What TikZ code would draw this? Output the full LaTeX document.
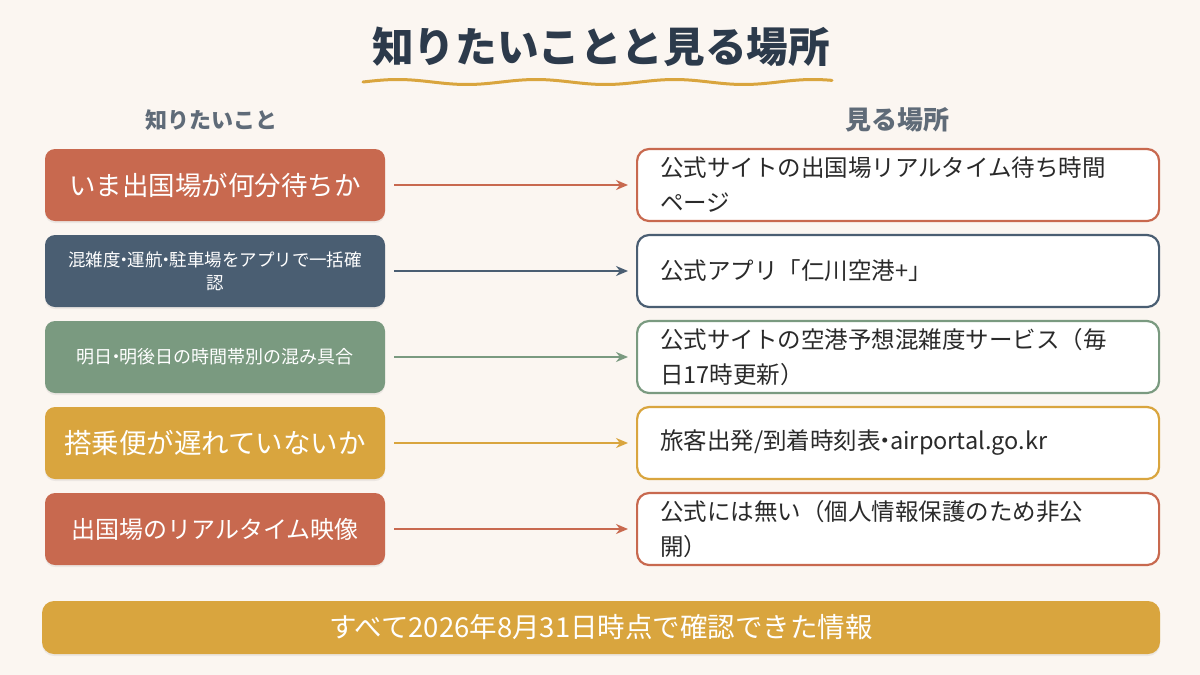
\documentclass[tikz,border=0pt]{standalone}
\usepackage{fontspec}
\setmainfont{Noto Sans CJK JP}
\usetikzlibrary{arrows.meta,shadows}
\definecolor{bgc}{HTML}{FBF6F1}
\definecolor{titlec}{HTML}{2C3A4B}
\definecolor{headc}{HTML}{5F6B78}
\definecolor{terra}{HTML}{C8694F}
\definecolor{slate}{HTML}{4A5E72}
\definecolor{sage}{HTML}{7A9A80}
\definecolor{gold}{HTML}{D9A53E}
\definecolor{txtc}{HTML}{2A2A2A}
\newcommand{\nd}{\kern-.3em・\kern-.3em}
\tikzset{
  leftbox/.style={rectangle, rounded corners=10pt, fill=#1, text=white, minimum width=340pt, minimum height=72pt, align=center, inner sep=4pt,
    drop shadow={opacity=0.12, shadow xshift=0pt, shadow yshift=-2pt}},
  rightbox/.style={rectangle, rounded corners=12pt, draw=#1, line width=2.2pt, fill=white, text=txtc, text width=476pt, inner xsep=23pt, inner ysep=4pt, minimum height=72pt, align=left, anchor=west,
    font=\fontsize{23.5}{35}\selectfont},
  conn/.style={draw=#1, line width=2pt, -{Stealth[length=12pt,width=10pt]}, shorten <=9pt, shorten >=8pt},
  colhead/.style={text=headc},
}
\begin{document}
\begin{tikzpicture}[x=1pt,y=-1pt]
\path[fill=bgc] (0,0) rectangle (1200,675);
\useasboundingbox (0,0) rectangle (1200,675);
% title
\node[text=titlec, font=\fontsize{41.6}{48}\selectfont\bfseries] (title) at (601,47) {知りたいことと見る場所};
\draw[gold, line width=3pt, line cap=round, domain=0:469, samples=120, smooth] plot ({363+\x}, {82-2.5*sin(\x*2.6)});
% column headers
\node[colhead, font=\fontsize{22}{26}\selectfont\bfseries] (hl) at (211,120) {知りたいこと};
\node[colhead, font=\fontsize{26}{30}\selectfont\bfseries] (hr) at (897,120) {見る場所};
% left boxes
\node[leftbox=terra, font=\fontsize{26.5}{30}\selectfont] (l1) at (215,185) {いま出国場が何分待ちか};
\node[leftbox=slate, font=\fontsize{17.5}{23}\selectfont] (l2) at (215,271) {混雑度\nd 運航\nd 駐車場をアプリで一括確\\認};
\node[leftbox=sage, font=\fontsize{18}{22}\selectfont] (l3) at (215,357) {明日\nd 明後日の時間帯別の混み具合};
\node[leftbox=gold, font=\fontsize{27.5}{32}\selectfont] (l4) at (215,443) {搭乗便が遅れていないか};
\node[leftbox=terra, font=\fontsize{24}{28}\selectfont] (l5) at (215,529) {出国場のリアルタイム映像};
% right boxes
\node[rightbox=terra] (r1) at (636,185) {公式サイトの出国場リアルタイム待ち時間\\ページ};
\node[rightbox=slate] (r2) at (636,271) {公式アプリ「仁川空港+」};
\node[rightbox=sage] (r3) at (636,357) {公式サイトの空港予想混雑度サービス（毎\\日17時更新）};
\node[rightbox=gold] (r4) at (636,443) {旅客出発/到着時刻表\nd airportal.go.kr};
\node[rightbox=terra] (r5) at (636,529) {公式には無い（個人情報保護のため非公\\開）};
% connectors
\draw[conn=terra] (l1.east) -- (r1.west);
\draw[conn=slate] (l2.east) -- (r2.west);
\draw[conn=sage] (l3.east) -- (r3.west);
\draw[conn=gold] (l4.east) -- (r4.west);
\draw[conn=terra] (l5.east) -- (r5.west);
% bottom banner
\node[rectangle, rounded corners=12pt, fill=gold, text=white, minimum width=1118pt, minimum height=53pt, font=\fontsize{27.5}{30}\selectfont,
  drop shadow={opacity=0.12, shadow xshift=0pt, shadow yshift=-2pt}] (banner) at (601,627.5) {すべて2026年8月31日時点で確認できた情報};
\end{tikzpicture}
\end{document}
